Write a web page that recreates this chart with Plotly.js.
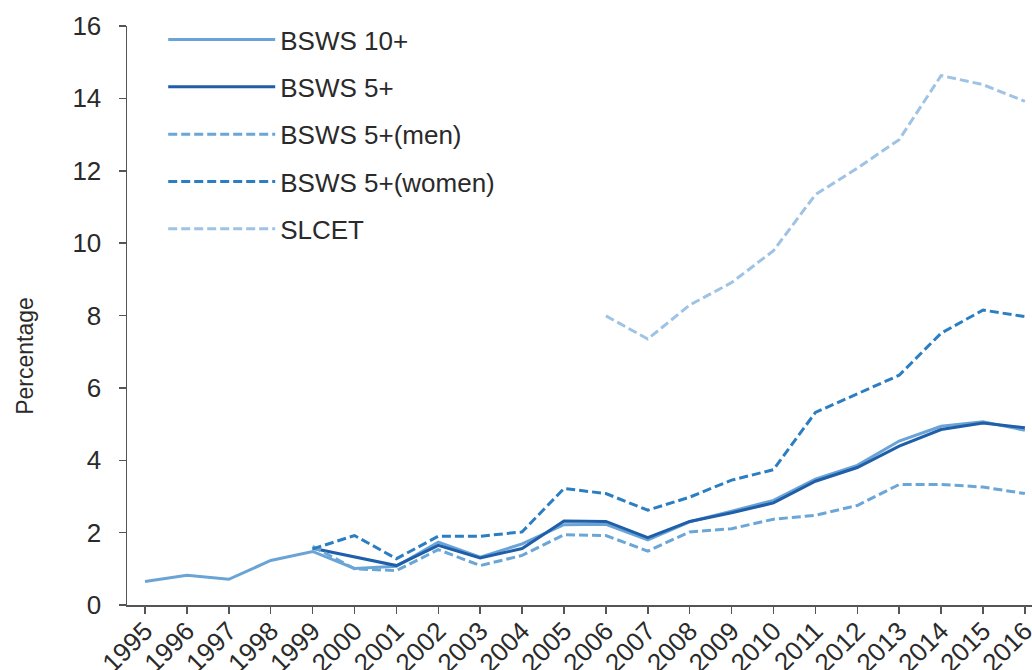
<!DOCTYPE html>
<html>
<head>
<meta charset="utf-8">
<script src="https://cdn.plot.ly/plotly-3.0.1.min.js"></script>
<style>
html,body{margin:0;padding:0;background:#fff;}
#chart{width:1032px;height:670px;}
</style>
</head>
<body>
<div id="chart"></div>
<script>
const years = [1995,1996,1997,1998,1999,2000,2001,2002,2003,2004,2005,2006,2007,2008,2009,2010,2011,2012,2013,2014,2015,2016];
const yearLabels = years.map(String);

const bsws10 = [0.65,0.82,0.71,1.23,1.48,1.01,1.07,1.74,1.32,1.69,2.22,2.23,1.80,2.30,2.59,2.89,3.48,3.86,4.53,4.94,5.06,4.83];
const bsws5 = [null,null,null,null,1.57,1.33,1.09,1.65,1.30,1.56,2.32,2.31,1.86,2.31,2.55,2.82,3.42,3.80,4.39,4.85,5.03,4.90];
const bsws5men = [null,null,null,null,1.62,1.00,0.95,1.53,1.09,1.37,1.94,1.92,1.49,2.02,2.11,2.37,2.48,2.75,3.33,3.33,3.26,3.08];
const bsws5women = [null,null,null,null,1.55,1.92,1.28,1.90,1.90,2.02,3.22,3.08,2.62,2.98,3.45,3.74,5.32,5.83,6.35,7.51,8.15,7.97];
const slcet = [null,null,null,null,null,null,null,null,null,null,null,7.99,7.35,8.29,8.91,9.79,11.34,12.07,12.86,14.63,14.38,13.92];

const seriesNames = ['BSWS 10+','BSWS 5+','BSWS 5+(men)','BSWS 5+(women)','SLCET'];
const seriesData = [bsws10, bsws5, bsws5men, bsws5women, slcet];
const colors = ['#6aa4d6','#1f5ea8','#6aa6d8','#2c7ec3','#9fc3e4'];
const dashes = ['solid','solid','9px,4px','9px,4px','9px,4px'];

const traces = seriesNames.map((n,i)=>({
  x: years, y: seriesData[i], name: n, type:'scatter', mode:'lines',
  line:{color:colors[i], width:3, dash:dashes[i]},
  legendgroup:'g'+i, connectgaps:false
}));

const font = {family:'"Liberation Sans", Arial, sans-serif', color:'#2a2a2a'};

const layout = {
  width:1032, height:670,
  margin:{l:127, r:0, t:26, b:65},
  paper_bgcolor:'#fff', plot_bgcolor:'#fff',
  font: Object.assign({size:26}, font),
  showlegend:true,
  legend:{x:0.04, y:1.017, xanchor:'left', yanchor:'top', bgcolor:'rgba(0,0,0,0)',
    font:Object.assign({size:26}, font), itemwidth:107, tracegroupgap:10.5},
  xaxis:{range:[1994.57,2016.17], tickvals:years, ticktext:yearLabels, tickangle:-45,
    showgrid:false, zeroline:false, showline:true, linecolor:'#555', linewidth:1.5,
    ticks:'outside', ticklen:7, tickcolor:'#555', tickwidth:1.5,
    ticklabeloverflow:'allow', ticklabelstandoff:-8,
    tickfont:Object.assign({size:26}, font)},
  yaxis:{range:[0,16], tickvals:[0,2,4,6,8,10,12,14,16], showgrid:false, zeroline:false,
    showline:true, linecolor:'#555', linewidth:1.5, ticks:'outside', ticklen:7,
    tickcolor:'#555', tickwidth:1.5, ticklabelstandoff:12,
    tickfont:Object.assign({size:26}, font)},
  annotations:[{text:'Percentage', xref:'paper', yref:'paper', x:-0.113, y:0.43,
    xanchor:'center', yanchor:'middle', textangle:-90, showarrow:false,
    font:Object.assign({size:23}, font)}]
};

Plotly.newPlot('chart', traces, layout, {displayModeBar:false, staticPlot:true});
</script>
</body>
</html>
